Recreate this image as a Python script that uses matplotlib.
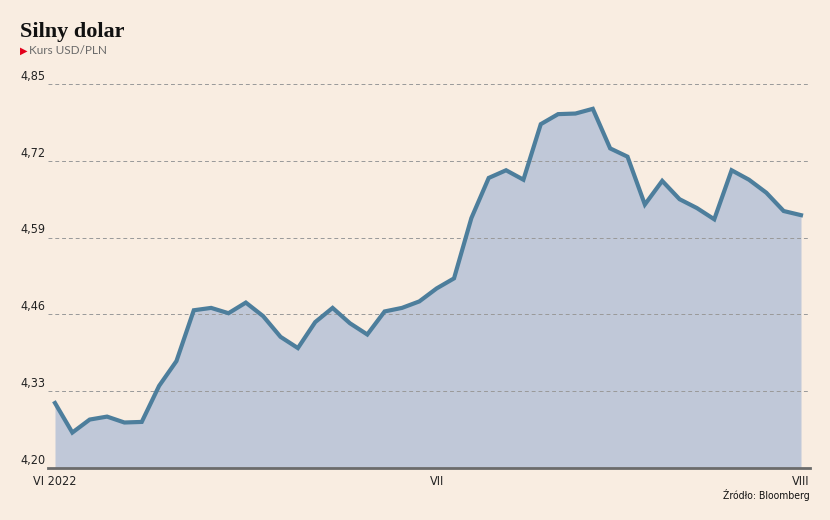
import numpy as np
import matplotlib.pyplot as plt
from matplotlib.ticker import FixedLocator

# Kurs USD/PLN, notowania dzienne VI-VIII 2022
usdpln = [4.310, 4.260, 4.282, 4.287, 4.277, 4.278, 4.339, 4.381, 4.467, 4.471,
          4.462, 4.480, 4.457, 4.422, 4.403, 4.447, 4.471, 4.445, 4.426, 4.465,
          4.471, 4.482, 4.504, 4.521, 4.623, 4.691, 4.704, 4.688, 4.782, 4.799,
          4.800, 4.808, 4.741, 4.727, 4.646, 4.686, 4.655, 4.640, 4.621, 4.704,
          4.688, 4.666, 4.635, 4.628]
y_ticks = [4.20, 4.33, 4.46, 4.59, 4.72, 4.85]
x_tick_pos = [0, 22, 43]
x_tick_labels = ["VI 2022", "VII", "VIII"]

bg = "#f9ede1"
line_col = "#4d7e9c"
fill_col = "#c0c8d8"
narrow = dict(family="DejaVu Sans", stretch="condensed")

W, H = 830, 520
fig = plt.figure(figsize=(W / 100, H / 100), dpi=100, facecolor=bg)

# axes placed in pixel terms
left, right, top, bottom = 48, 810, 84, 468
ax = fig.add_axes([left / W, 1 - bottom / H, (right - left) / W, (bottom - top) / H])
ax.set_facecolor(bg)

x = np.arange(len(usdpln))
ax.fill_between(x, usdpln, 4.20, color=fill_col, lw=0, zorder=1)
ax.plot(x, usdpln, color=line_col, lw=3.0, solid_joinstyle="miter", zorder=3)

# x range: first point at px 55, last at px 801
px_per = (801 - 55) / (len(usdpln) - 1)
x0 = -(55 - left) / px_per
ax.set_xlim(x0, (len(usdpln) - 1) + (right - 801) / px_per)
ax.set_ylim(4.20, 4.85)

for v in y_ticks:
    if v > 4.20:
        ax.axhline(v, color="#999999", lw=0.7, ls=(0, (4, 3)), zorder=2)
    ax.text(x0 - 0.15, v + 0.002, f"{v:.2f}".replace(".", ","),
            ha="right", va="bottom", fontsize=9, color="#222222", **narrow)

for s in ["top", "right", "left"]:
    ax.spines[s].set_visible(False)
ax.spines["bottom"].set_color("#6b6b6b")
ax.spines["bottom"].set_linewidth(2)
ax.set_yticks([])
ax.xaxis.set_major_locator(FixedLocator(x_tick_pos))
ax.set_xticklabels(x_tick_labels, fontsize=9, color="#222222", **narrow)
ax.tick_params(axis="x", length=0, pad=5)

# titles
fig.text(20 / W, 1 - 37 / H, "Silny dolar", fontsize=16, fontweight="bold",
         family=["Liberation Serif", "DejaVu Serif"], color="#111111")
fig.text(20 / W, 1 - 54 / H, "\u25B6", fontsize=7, color="#e3001b",
         family="DejaVu Sans")
fig.text(29 / W, 1 - 54 / H, "Kurs USD/PLN", fontsize=8.5, color="#6a6a6a",
         family=["Lato", "DejaVu Sans"])
fig.text(810 / W, 1 - 499 / H, "Źródło: Bloomberg", fontsize=7.5, color="#111111",
         ha="right", **narrow)

fig.savefig("out.png", dpi=100, facecolor=bg)
